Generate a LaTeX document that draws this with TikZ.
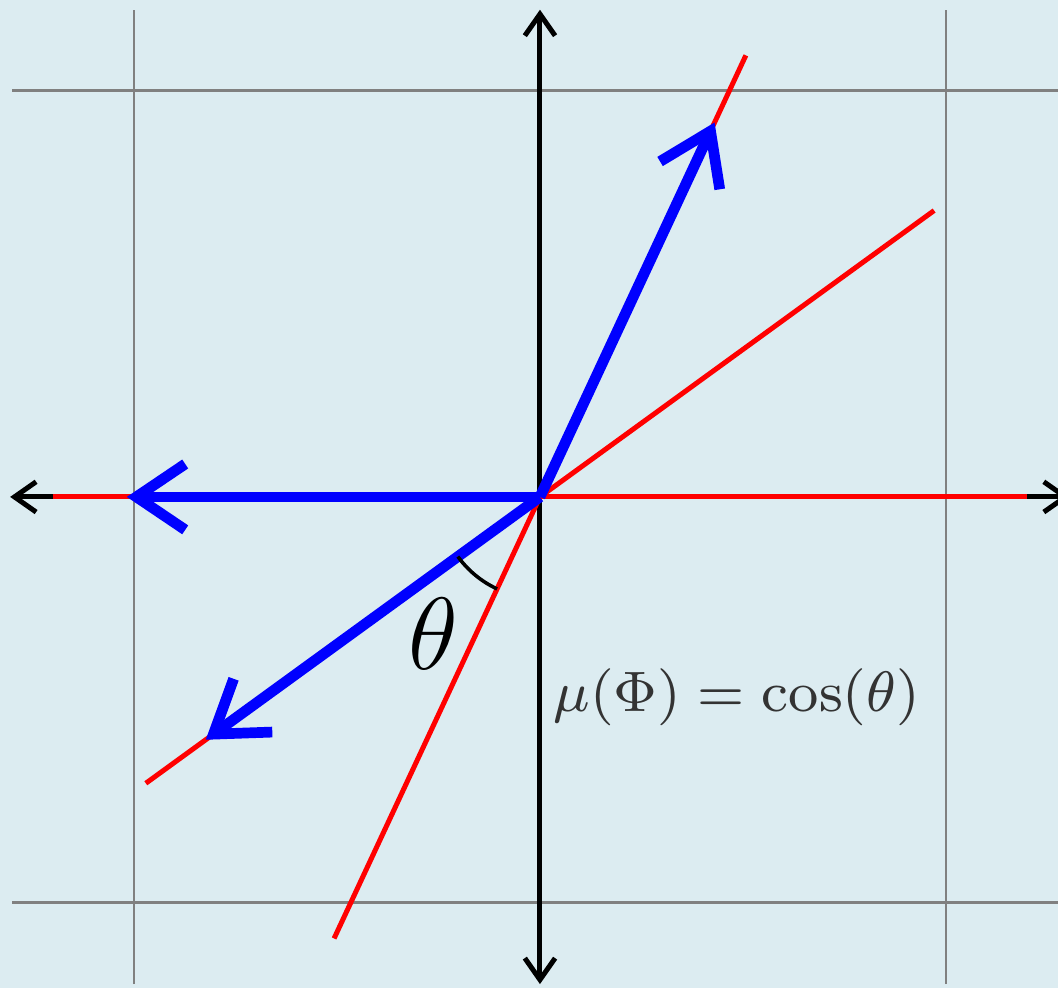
\documentclass[tikz,border=0pt]{standalone}
\usepackage{xcolor}
\usepackage{tikz}
\usetikzlibrary{arrows.meta}

\definecolor{paneblue}{RGB}{220,236,241}

\begin{document}
\begin{tikzpicture}[
    grid_line/.style={draw=gray, line width=0.4pt},
    axis_line/.style={draw=black, line width=0.7pt, {Straight Barb[angle=70:0.13cm]}-{Straight Barb[angle=70:0.13cm]}},
    red_line/.style={draw=red, line width=0.7pt},
    vec_arrow/.style={draw=blue, line width=1.5pt, shorten >=-1pt, -{Straight Barb[angle=68:0.29cm]}},
    angle_arc/.style={draw=black, line width=0.5pt}
]
    % Background panel
    \fill[paneblue] (-2.66,-2.419) rectangle (2.552,2.448);
    \useasboundingbox (-2.66,-2.419) rectangle (2.552,2.448);

    % Grid lines
    \foreach \x in {-2,2}
        \draw[grid_line] (\x,-2.4) -- (\x,2.4);
    \foreach \y in {-2,2}
        \draw[grid_line] (-2.6,\y) -- (2.6,\y);

    % Axes
    \coordinate (O) at (0,0);
    \coordinate (x_min) at (-2.61,0);
    \coordinate (x_max) at (2.61,0);
    \coordinate (y_min) at (0,-2.4);
    \coordinate (y_max) at (0,2.4);
    \draw[axis_line] (x_min) -- (x_max);
    \draw[axis_line] (y_min) -- (y_max);

    % Red lines through the origin
    \draw[red_line] (180:2.4) -- (0:2.4);
    \draw[red_line] (216:2.4) -- (36:2.4);
    \draw[red_line] (245:2.4) -- (65:2.4);

    % Blue vectors
    \coordinate (v_up) at (65:2);
    \coordinate (v_left) at (180:2);
    \coordinate (v_down) at (216:2);
    \draw[vec_arrow] (O) -- (v_up);
    \draw[vec_arrow] (O) -- (v_left);
    \draw[vec_arrow] (O) -- (v_down);

    % Angle between the lines
    \draw[angle_arc] (216:0.5) arc[start angle=216, end angle=245, radius=0.5];
    \node (theta_label) [font=\Large] at (-0.527,-0.675) {$\theta$};

    % Formula
    \node (mu_label) [text=black!80, font=\fontsize{8.3}{10}\selectfont] at (0.97,-0.985) {$\mu(\Phi) = \cos(\theta)$};
\end{tikzpicture}
\end{document}
